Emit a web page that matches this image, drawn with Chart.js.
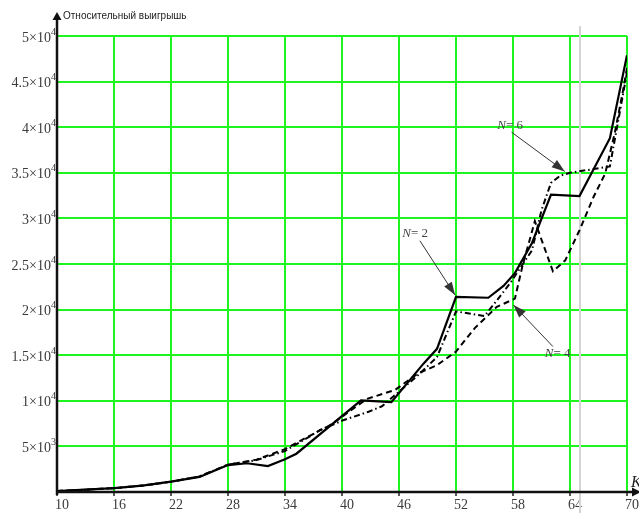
<!DOCTYPE html>
<html>
<head>
<meta charset="utf-8">
<title>Относительный выигрышь</title>
<script src="https://cdn.jsdelivr.net/npm/chart.js@4/dist/chart.umd.min.js"></script>
<style>
  html, body { margin: 0; padding: 0; background: #fff; }
  #wrap { width: 639px; height: 513px; }
</style>
</head>
<body>
<div id="wrap"><canvas id="c" width="639" height="513"></canvas></div>
<script>
// Relative gain versus K for three values of N
const kN2    = [10, 13, 16, 19, 22, 25, 28, 30, 32.2, 34, 35.2, 42, 45.2, 48.6, 50, 52, 55.4, 57, 58.2, 60, 62, 65, 68.2, 70];
const gainN2 = [100, 250, 420, 700, 1130, 1650, 2950, 3150, 2850, 3600, 4200, 10050, 9850, 14100, 15700, 21400, 21300, 22600, 24000, 27300, 32600, 32450, 38800, 47900];

const kN4    = [10, 13, 16, 19, 22, 25, 28, 31, 34, 36.3, 38.7, 40.2, 42.6, 45.6, 48, 50, 52, 54, 56.3, 58.2, 59, 60.3, 62.2, 63.5, 65, 66.5, 67.7, 68.7, 69.6, 70];
const gainN4 = [100, 250, 420, 700, 1130, 1700, 3000, 3550, 4700, 6000, 7300, 8400, 10200, 11200, 13000, 13900, 15400, 18000, 20300, 21200, 24800, 29700, 24200, 25400, 28700, 32400, 34900, 39300, 44100, 46500];

const kN6    = [10, 13, 16, 19, 22, 25, 28, 31, 34, 36.3, 37.7, 40.2, 42.8, 44.2, 46, 48, 50, 52, 55, 56.3, 57.7, 60, 61, 62, 63, 64, 68.2, 70];
const gainN6 = [100, 250, 420, 700, 1130, 1700, 3000, 3500, 4500, 5900, 6800, 7900, 8800, 9400, 11000, 12800, 14800, 19800, 19300, 21000, 22900, 26500, 30900, 33900, 34700, 35000, 35700, 46000];

// Axis ticks
const kTicks = [10, 16, 22, 28, 34, 40, 46, 52, 58, 64, 70];
const gainTickValues = [5000, 10000, 15000, 20000, 25000, 30000, 35000, 40000, 45000, 50000];
const gainTickMantissa = ['5×10', '1×10', '1.5×10', '2×10', '2.5×10', '3×10', '3.5×10', '4×10', '4.5×10', '5×10'];
const gainTickExponent = ['3', '4', '4', '4', '4', '4', '4', '4', '4', '4'];

const yTitle = 'Относительный выигрышь';
const xTitle = 'K';
const cursorK = 65.1;

// Callouts: label position and arrow from/to, in data units
const callouts = [
  { n: '6', text: [57.7, 40150], from: [57.85, 39450], to: [63.45, 35150] },
  { n: '2', text: [47.7, 28300], from: [48.2, 27550], to: [51.9, 21600] },
  { n: '4', text: [62.7, 15150], from: [62.2, 15950], to: [58.05, 20500] }
];

const pts = (ks, vs) => ks.map((k, i) => ({ x: k, y: vs[i] }));
const GRID = 'rgb(30,245,30)';

function arrowHead(ctx, x1, y1, x2, y2, len, half) {
  const a = Math.atan2(y2 - y1, x2 - x1);
  ctx.beginPath();
  ctx.moveTo(x2, y2);
  ctx.lineTo(x2 - len * Math.cos(a) + half * Math.sin(a), y2 - len * Math.sin(a) - half * Math.cos(a));
  ctx.lineTo(x2 - len * Math.cos(a) - half * Math.sin(a), y2 - len * Math.sin(a) + half * Math.cos(a));
  ctx.closePath();
  ctx.fill();
}

const decor = {
  id: 'decor',
  beforeDatasetsDraw(chart) {
    const ctx = chart.ctx, xs = chart.scales.x;
    const gx = Math.round(xs.getPixelForValue(cursorK));
    ctx.save();
    ctx.strokeStyle = '#d4d4d4';
    ctx.lineWidth = 2;
    ctx.beginPath();
    ctx.moveTo(gx, 26);
    ctx.lineTo(gx, chart.height);
    ctx.stroke();
    ctx.restore();
  },
  afterDraw(chart) {
    const ctx = chart.ctx, xs = chart.scales.x, ys = chart.scales.y;
    const x0 = xs.getPixelForValue(10), y0 = ys.getPixelForValue(0);
    ctx.save();
    // axes with arrows
    ctx.strokeStyle = '#111';
    ctx.fillStyle = '#111';
    ctx.lineWidth = 2.5;
    ctx.beginPath();
    ctx.moveTo(x0, y0 + 3);
    ctx.lineTo(x0, 18);
    ctx.stroke();
    ctx.beginPath();
    ctx.moveTo(x0, 12);
    ctx.lineTo(x0 - 4.5, 20);
    ctx.lineTo(x0 + 4.5, 20);
    ctx.closePath();
    ctx.fill();
    ctx.beginPath();
    ctx.moveTo(x0 - 1, y0);
    ctx.lineTo(chart.width - 4, y0);
    ctx.stroke();
    ctx.beginPath();
    ctx.moveTo(chart.width + 2, y0);
    ctx.lineTo(chart.width - 7, y0 - 4.5);
    ctx.lineTo(chart.width - 7, y0 + 4.5);
    ctx.closePath();
    ctx.fill();

    // axis titles
    ctx.fillStyle = '#222';
    ctx.font = '10px "Liberation Sans", Arial, sans-serif';
    ctx.textBaseline = 'middle';
    ctx.textAlign = 'left';
    ctx.fillText(yTitle, x0 + 6, 16);
    ctx.font = 'italic 16px "Liberation Serif", serif';
    ctx.textBaseline = 'alphabetic';
    ctx.fillText(xTitle, 631, 487);

    // y tick labels with raised exponent
    ctx.fillStyle = '#3a3a3a';
    ctx.textAlign = 'left';
    gainTickValues.forEach((v, i) => {
      const y = ys.getPixelForValue(v);
      ctx.font = '10px "Liberation Serif", serif';
      const ew = ctx.measureText(gainTickExponent[i]).width;
      ctx.font = '14px "Liberation Serif", serif';
      const mw = ctx.measureText(gainTickMantissa[i]).width;
      const right = 56;
      ctx.fillText(gainTickMantissa[i], right - ew - mw, y + 5.5);
      ctx.font = '10px "Liberation Serif", serif';
      ctx.fillText(gainTickExponent[i], right - ew, y - 1.5);
    });

    // callouts
    ctx.strokeStyle = '#333';
    ctx.fillStyle = '#333';
    ctx.lineWidth = 1;
    callouts.forEach(c => {
      const fx = xs.getPixelForValue(c.from[0]), fy = ys.getPixelForValue(c.from[1]);
      const tx = xs.getPixelForValue(c.to[0]), ty = ys.getPixelForValue(c.to[1]);
      ctx.beginPath();
      ctx.moveTo(fx, fy);
      ctx.lineTo(tx, ty);
      ctx.stroke();
      arrowHead(ctx, fx, fy, tx, ty, 13, 4.5);
      const px = xs.getPixelForValue(c.text[0]), py = ys.getPixelForValue(c.text[1]);
      ctx.textBaseline = 'middle';
      ctx.font = 'italic 13px "Liberation Serif", serif';
      const nW = ctx.measureText('N').width;
      ctx.font = '13px "Liberation Serif", serif';
      const rest = '= ' + c.n;
      const rW = ctx.measureText(rest).width;
      const startX = px - (nW + rW) / 2;
      ctx.font = 'italic 13px "Liberation Serif", serif';
      ctx.fillStyle = '#444';
      ctx.fillText('N', startX, py);
      ctx.font = '13px "Liberation Serif", serif';
      ctx.fillText(rest, startX + nW, py);
      ctx.fillStyle = '#333';
    });
    ctx.restore();
  }
};

new Chart(document.getElementById('c'), {
  type: 'scatter',
  data: {
    datasets: [
      { label: 'N = 2', data: pts(kN2, gainN2), showLine: true, borderColor: '#000', borderWidth: 2.2, pointRadius: 0, tension: 0 },
      { label: 'N = 4', data: pts(kN4, gainN4), showLine: true, borderColor: '#000', borderWidth: 2, borderDash: [6, 4], pointRadius: 0, tension: 0 },
      { label: 'N = 6', data: pts(kN6, gainN6), showLine: true, borderColor: '#000', borderWidth: 2, borderDash: [6, 3, 1.5, 3], pointRadius: 0, tension: 0 }
    ]
  },
  options: {
    responsive: false,
    animation: false,
    devicePixelRatio: 1,
    layout: { padding: { top: 36, right: 12, left: 0, bottom: 0 } },
    plugins: { legend: { display: false }, tooltip: { enabled: false } },
    scales: {
      x: {
        type: 'linear',
        min: 10, max: 70,
        afterBuildTicks: s => { s.ticks = kTicks.map(v => ({ value: v })); },
        afterFit: s => { s.height = 21; },
        ticks: {
          color: '#3a3a3a',
          font: { family: '"Liberation Serif", serif', size: 14 },
          labelOffset: 5,
          padding: 1,
          maxRotation: 0,
          autoSkip: false
        },
        grid: { color: GRID, lineWidth: 2, tickLength: 4, tickColor: '#222', tickWidth: 1.5 },
        border: { display: false }
      },
      y: {
        type: 'linear',
        min: 0, max: 50000,
        afterBuildTicks: s => { s.ticks = [0].concat(gainTickValues).map(v => ({ value: v })); },
        afterFit: s => { s.width = 57; },
        ticks: { display: false },
        grid: { color: GRID, lineWidth: 2, drawTicks: false },
        border: { display: false }
      }
    }
  },
  plugins: [decor]
});
</script>
</body>
</html>
